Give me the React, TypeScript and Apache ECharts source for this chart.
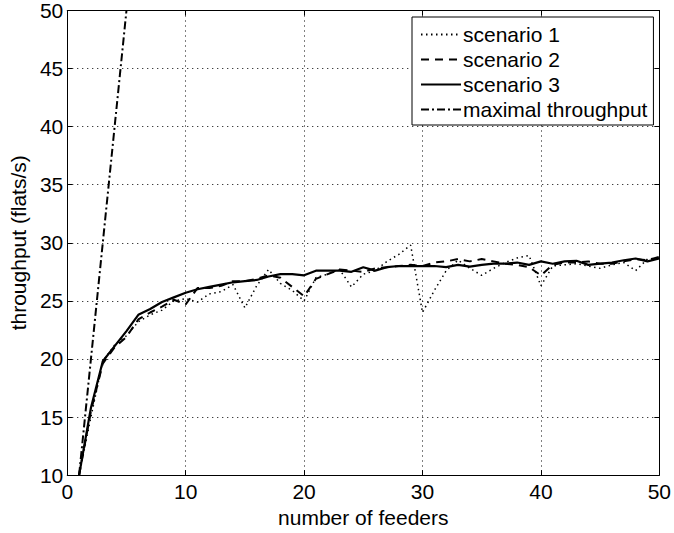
import React, { useEffect, useRef } from "react";
import * as echarts from "echarts";

const feeders = Array.from({ length: 50 }, (_, i) => i + 1);

const scenario1 = [
  10, 15.0, 19.8, 21.2, 22.0, 23.2, 23.8, 24.2, 25.0, 25.2,
  24.9, 25.6, 25.8, 26.4, 24.4, 26.3, 27.7, 26.5, 25.9, 25.0,
  27.0, 27.3, 27.7, 26.2, 27.3, 27.6, 28.4, 29.0, 29.8, 24.0,
  25.9, 27.6, 28.5, 27.8, 27.2, 27.8, 28.3, 28.7, 28.9, 26.3,
  28.0, 28.1, 28.2, 28.0, 27.8, 28.1, 28.3, 27.6, 28.6, 28.7,
];

const scenario2 = [
  10, 15.5, 19.6, 21.0, 21.9, 23.4, 24.0, 24.5, 25.1, 24.7,
  26.1, 26.1, 26.3, 26.7, 26.7, 26.9, 27.2, 27.0, 26.2, 25.4,
  26.9, 27.3, 27.7, 27.6, 27.5, 27.8, 27.9, 28.0, 28.1, 28.0,
  28.3, 28.4, 28.6, 28.4, 28.6, 28.4, 28.2, 28.1, 27.9, 27.2,
  28.1, 28.3, 28.3, 28.4, 28.2, 28.2, 28.4, 28.6, 28.5, 28.8,
];

const scenario3 = [
  10, 15.8, 19.8, 21.1, 22.4, 23.8, 24.3, 24.9, 25.3, 25.7,
  26.0, 26.2, 26.4, 26.6, 26.7, 26.8, 27.1, 27.3, 27.3, 27.2,
  27.6, 27.6, 27.6, 27.5, 27.9, 27.6, 27.9, 28.0, 28.0, 28.0,
  28.0, 27.9, 28.1, 27.95, 28.1, 28.2, 28.2, 28.3, 28.1, 28.4,
  28.2, 28.4, 28.45, 28.1, 28.2, 28.3, 28.5, 28.65, 28.4, 28.65,
];

const maxFeeders = [1, 2, 3, 4, 5];
const maxThroughput = [10, 20, 30, 40, 50];

const seriesNames = ["scenario 1", "scenario 2", "scenario 3", "maximal throughput"];
const xTicks = { min: 0, max: 50, interval: 10 };
const yTicks = { min: 10, max: 50, interval: 5 };

const FONT = "'Liberation Sans', Arial, Helvetica, sans-serif";
const FS = 21;

export default function App() {
  const ref = useRef<HTMLDivElement>(null);
  useEffect(() => {
    if (!ref.current) return;
    const chart = echarts.init(ref.current, null, { renderer: "svg" });
    const pairs = (xs: number[], ys: number[]) => xs.map((x, i) => [x, ys[i]]);
    const axisLine = { show: true, onZero: false, lineStyle: { color: "#000", width: 1 } };
    const tick = { show: true, inside: true, length: 5, lineStyle: { color: "#000", width: 1 } };
    const grid = { show: true, lineStyle: { color: "#000", width: 1, type: [1, 4] as any } };
    const label = { color: "#000", fontSize: FS, fontFamily: FONT };
    chart.setOption({
      animation: false,
      backgroundColor: "#fff",
      textStyle: { fontFamily: FONT },
      grid: { left: 64, right: 10, top: 9, bottom: 50, containLabel: false },
      legend: {
        orient: "vertical",
        left: 412,
        top: 17,
        data: seriesNames,
        backgroundColor: "#fff",
        borderColor: "#000",
        borderWidth: 1,
        borderRadius: 0,
        padding: [7, 6, 5, 8],
        itemWidth: 40,
        itemHeight: 14,
        itemGap: 4,
        itemStyle: { opacity: 0 },
        textStyle: { color: "#000", fontSize: FS, fontFamily: FONT, padding: [0, 0, 0, -3] },
        selectedMode: false,
      },
      xAxis: [
        {
          type: "value",
          position: "bottom",
          ...xTicks,
          axisLine,
          axisTick: tick,
          axisLabel: { ...label, margin: 6, showMinLabel: true, showMaxLabel: true },
          splitLine: grid,
          name: "number of feeders",
          nameLocation: "middle",
          nameGap: 28,
          nameTextStyle: { color: "#000", fontSize: FS, fontFamily: FONT },
        },
        {
          type: "value",
          position: "top",
          ...xTicks,
          axisLine,
          axisTick: tick,
          axisLabel: { show: false },
          splitLine: { show: false },
        },
      ],
      yAxis: [
        {
          type: "value",
          position: "left",
          ...yTicks,
          axisLine,
          axisTick: tick,
          axisLabel: { ...label, margin: 4, showMinLabel: true, showMaxLabel: true },
          splitLine: grid,
          name: "throughput (flats/s)",
          nameLocation: "middle",
          nameGap: 36,
          nameTextStyle: { color: "#000", fontSize: FS, fontFamily: FONT },
        },
        {
          type: "value",
          position: "right",
          ...yTicks,
          axisLine,
          axisTick: tick,
          axisLabel: { show: false },
          splitLine: { show: false },
        },
      ],
      series: [
        {
          name: seriesNames[0],
          type: "line",
          data: pairs(feeders, scenario1),
          symbol: "none",
          lineStyle: { color: "#000", width: 1.5, type: [1.5, 3.5] },
          itemStyle: { color: "#000" },
        },
        {
          name: seriesNames[1],
          type: "line",
          data: pairs(feeders, scenario2),
          symbol: "none",
          lineStyle: { color: "#000", width: 2, type: [8, 6] },
          itemStyle: { color: "#000" },
        },
        {
          name: seriesNames[2],
          type: "line",
          data: pairs(feeders, scenario3),
          symbol: "none",
          lineStyle: { color: "#000", width: 2.2, type: "solid" },
          itemStyle: { color: "#000" },
        },
        {
          name: seriesNames[3],
          type: "line",
          data: pairs(maxFeeders, maxThroughput),
          symbol: "none",
          lineStyle: { color: "#000", width: 2, type: [8, 3, 2, 3] },
          itemStyle: { color: "#000" },
        },
      ],
    });
    return () => chart.dispose();
  }, []);
  return (
    <div
      ref={ref}
      style={{ position: "absolute", left: 0, top: 0, width: 674, height: 533, background: "#fff" }}
    />
  );
}
